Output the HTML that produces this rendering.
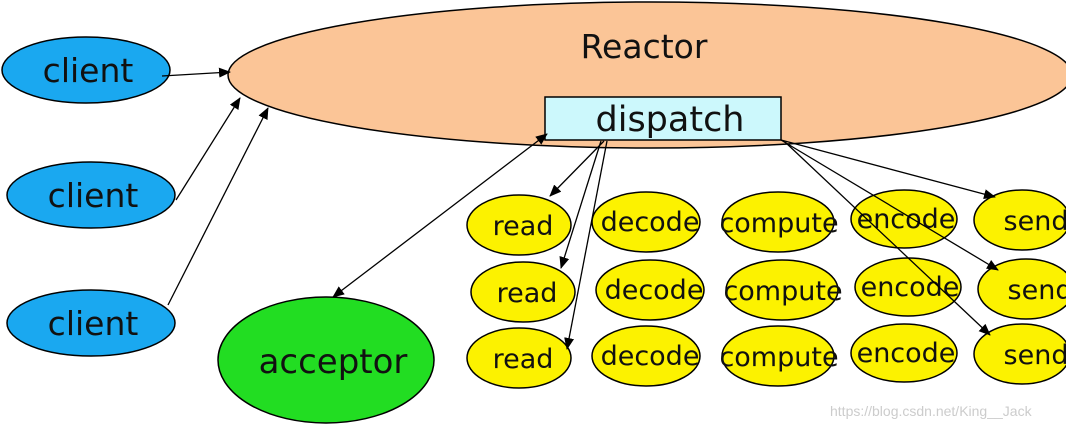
<!DOCTYPE html>
<html><head><style>body{margin:0;background:#fff}svg{display:block}</style></head><body>
<svg width="1066" height="428" viewBox="0 0 1066 428" xmlns="http://www.w3.org/2000/svg" font-family="DejaVu Sans, Liberation Sans, sans-serif">
<defs><marker id="a" markerWidth="12" markerHeight="10" refX="11" refY="5" orient="auto-start-reverse" markerUnits="userSpaceOnUse"><path d="M0,0 L12,5 L0,10 z" fill="#000"/></marker></defs>
<ellipse cx="650" cy="75" rx="422" ry="73" fill="#fbc597" stroke="#000" stroke-width="1.5"/>
<text x="644" y="58" font-size="33" text-anchor="middle" fill="#111">Reactor</text>
<rect x="545" y="97" width="236" height="43" fill="#ccf8fc" stroke="#000" stroke-width="1.5"/>
<text x="670" y="131" font-size="35" text-anchor="middle" fill="#111">dispatch</text>
<g fill="#1aa8f0" stroke="#000" stroke-width="1.5">
<ellipse cx="86" cy="70" rx="84" ry="33"/><ellipse cx="91" cy="195" rx="84" ry="33"/><ellipse cx="91" cy="323" rx="84" ry="33"/></g>
<g font-size="33" text-anchor="middle" fill="#111">
<text x="88" y="82">client</text><text x="93" y="207">client</text><text x="93" y="335">client</text></g>
<ellipse cx="326" cy="360" rx="108" ry="63" fill="#22dd22" stroke="#000" stroke-width="1.5"/>
<text x="333" y="373" font-size="34" text-anchor="middle" fill="#111">acceptor</text>
<g fill="#fcf200" stroke="#000" stroke-width="1.5">
<ellipse cx="519" cy="225" rx="52" ry="30"/><ellipse cx="646" cy="222" rx="54" ry="30"/><ellipse cx="778" cy="222" rx="56" ry="30"/><ellipse cx="904" cy="219" rx="53" ry="29"/><ellipse cx="1022" cy="220" rx="48" ry="30"/>
<ellipse cx="523" cy="292" rx="52" ry="30"/><ellipse cx="650" cy="290" rx="54" ry="30"/><ellipse cx="782" cy="290" rx="56" ry="30"/><ellipse cx="908" cy="287" rx="53" ry="29"/><ellipse cx="1026" cy="289" rx="48" ry="30"/>
<ellipse cx="519" cy="358" rx="52" ry="30"/><ellipse cx="646" cy="356" rx="54" ry="30"/><ellipse cx="778" cy="356" rx="56" ry="30"/><ellipse cx="904" cy="353" rx="53" ry="29"/><ellipse cx="1022" cy="354" rx="48" ry="30"/>
</g>
<g font-size="27" text-anchor="middle" fill="#111">
<text x="523" y="235">read</text><text x="650" y="231">decode</text><text x="779" y="232">compute</text><text x="906" y="228">encode</text><text x="1036" y="230">send</text>
<text x="527" y="302">read</text><text x="654" y="299">decode</text><text x="783" y="300">compute</text><text x="910" y="296">encode</text><text x="1040" y="299">send</text>
<text x="523" y="368">read</text><text x="650" y="365">decode</text><text x="779" y="366">compute</text><text x="906" y="362">encode</text><text x="1036" y="364">send</text>
</g>
<g stroke="#000" stroke-width="1.3" fill="none" marker-end="url(#a)">
<line x1="162" y1="76" x2="230" y2="72"/>
<line x1="176" y1="200" x2="240" y2="98"/>
<line x1="168" y1="305" x2="268" y2="108"/>
<line x1="333" y1="297" x2="547" y2="134" marker-start="url(#a)"/>
<line x1="604" y1="141" x2="550" y2="196"/>
<line x1="601" y1="141" x2="561" y2="268"/>
<line x1="607" y1="141" x2="567" y2="349"/>
<line x1="781" y1="140" x2="995" y2="197"/>
<line x1="781" y1="140" x2="998" y2="270"/>
<line x1="785" y1="142" x2="990" y2="335"/>
</g>
<text x="830" y="416" font-size="14" fill="#ccc" font-family="Liberation Sans, sans-serif">https://blog.csdn.net/King__Jack</text>
</svg>
</body></html>
